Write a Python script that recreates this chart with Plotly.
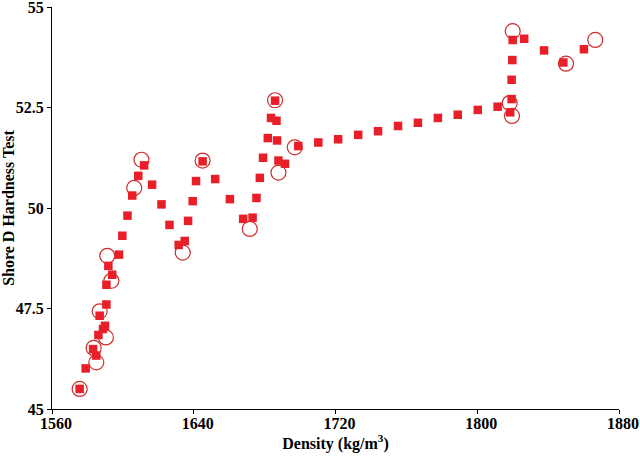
import plotly.graph_objects as go

# filled points (density, hardness)
density_pts = [1575.6, 1579.0, 1583.2, 1585.0, 1586.2, 1588.8, 1589.9, 1586.9, 1590.7, 1590.7,
               1594.0, 1591.8, 1597.8, 1599.7, 1602.6, 1605.3, 1608.7, 1612.0, 1616.5, 1621.8,
               1626.3, 1631.5, 1634.9, 1636.8, 1639.4, 1641.3, 1645.0, 1652.1, 1660.4, 1667.9,
               1673.2, 1675.4, 1677.3, 1679.1, 1681.8, 1683.6, 1686.7, 1685.9, 1687.0, 1687.8,
               1691.5, 1699.0, 1710.3, 1721.5, 1732.8, 1744.0, 1755.3, 1766.5, 1777.8, 1789.0,
               1800.3, 1811.5, 1818.6, 1819.4, 1819.4, 1819.8, 1820.0, 1826.5, 1837.7, 1848.6,
               1860.2]
hardness_pts = [45.50, 46.01, 46.49, 46.33, 46.84, 46.99, 47.07, 47.32, 47.60, 48.09,
                48.34, 48.56, 48.84, 49.31, 49.81, 50.31, 50.80, 51.06, 50.58, 50.09,
                49.58, 49.08, 49.18, 49.68, 50.17, 50.67, 51.16, 50.72, 50.22, 49.73,
                49.76, 50.25, 50.75, 51.25, 51.74, 52.24, 52.17, 52.67, 51.68, 51.18,
                51.10, 51.54, 51.63, 51.71, 51.82, 51.91, 52.04, 52.12, 52.24, 52.32,
                52.44, 52.52, 52.38, 52.71, 53.19, 53.68, 54.18, 54.21, 53.92, 53.62,
                53.95]

# open circles (measured)
density_meas = [1575.6, 1585.0, 1583.5, 1590.4, 1586.9, 1593.5, 1591.2, 1606.4, 1610.5, 1633.8,
                1645.0, 1671.6, 1685.9, 1687.8, 1697.0, 1820.0, 1818.3, 1819.6, 1850.1, 1866.6]
hardness_meas = [45.50, 46.16, 46.52, 46.78, 47.43, 48.19, 48.81, 50.50, 51.20, 48.89,
                 51.18, 49.48, 52.68, 50.88, 51.51, 54.40, 52.61, 52.29, 53.59, 54.18]

x_ticks = [1560, 1640, 1720, 1800, 1880]
y_ticks = [45, 47.5, 50, 52.5, 55]
y_ticklabels = ["45", "47.5", "50", "52.5", "55"]

fig = go.Figure()

fig.add_trace(go.Scatter(x=density_meas, y=hardness_meas, mode="markers",
                         marker=dict(symbol="circle-open", size=15, color="rgb(205,45,45)",
                                     line=dict(width=1.2, color="rgb(205,45,45)")),
                         showlegend=False, cliponaxis=False))
fig.add_trace(go.Scatter(x=density_pts, y=hardness_pts, mode="markers",
                         marker=dict(symbol="square", size=8.5, color="rgb(232,30,40)",
                                     line=dict(width=0)),
                         showlegend=False, cliponaxis=False))

font_b = dict(family="Liberation Serif", size=16, color="black", weight="bold")

fig.update_xaxes(range=[1560, 1880], tickvals=x_ticks, showgrid=False, zeroline=False,
                 showline=True, linecolor="black", linewidth=1.2, ticks="outside",
                 ticklen=4, tickcolor="black", tickfont=font_b, automargin=False,
                 ticklabelstandoff=-4, ticklabelshift=4, ticklabeloverflow="allow",
                 title=dict(text="Density (kg/m<sup>3</sup>)", font=font_b, standoff=0))
fig.update_yaxes(range=[45, 55], tickvals=y_ticks, ticktext=y_ticklabels, showgrid=False,
                 zeroline=False, showline=True, linecolor="black", linewidth=1.2,
                 ticks="outside", ticklen=4, tickcolor="black", tickfont=font_b,
                 automargin=False, ticklabeloverflow="allow",
                 title=dict(text="Shore D Hardness Test", font=font_b, standoff=0))

fig.update_layout(width=640, height=457, plot_bgcolor="white", paper_bgcolor="white",
                  margin=dict(l=52, r=21, t=7, b=48))

# page has a default body margin; drop it so the figure sits at the window corner
fig.write_html("out.html", config={"displayModeBar": False},
               post_script="document.body.style.margin='0px';")
